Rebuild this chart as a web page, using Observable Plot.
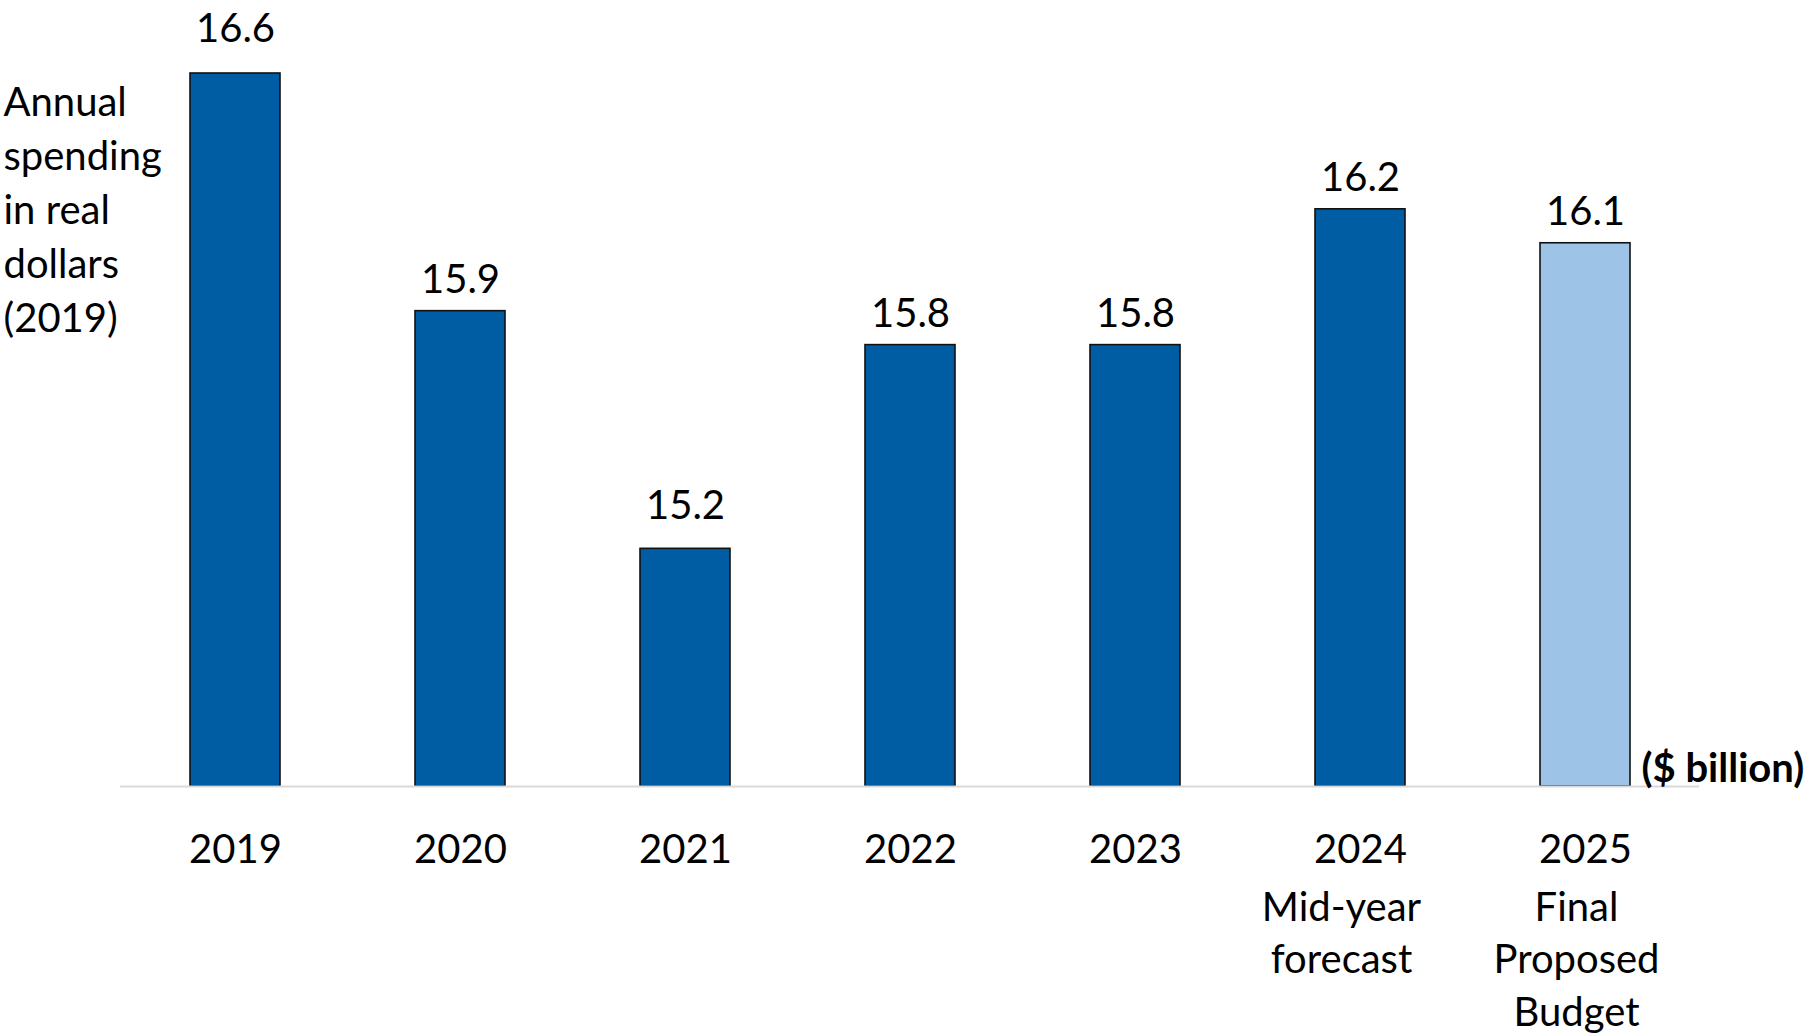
<!DOCTYPE html>
<html>
<head>
<meta charset="utf-8">
<script src="https://cdn.jsdelivr.net/npm/d3@7"></script>
<script src="https://cdn.jsdelivr.net/npm/@observablehq/plot@0.6"></script>
<style>
  html, body { margin: 0; padding: 0; background: #fff; overflow: hidden; }
  svg { display: block; font-family: Lato, "Open Sans", sans-serif; }
</style>
</head>
<body>
<div id="chart"></div>
<script>
// ---- data ----
const years = ["2019", "2020", "2021", "2022", "2023", "2024", "2025"];
const values = [16.6, 15.9, 15.2, 15.8, 15.8, 16.2, 16.1];
const seriesType = ["actual", "actual", "actual", "actual", "actual", "actual", "proposed"];
const subLabels = ["", "", "", "", "", "Mid-year\nforecast", "Final\nProposed\nBudget"];
const yAxisTitle = "Annual\nspending\nin real\ndollars\n(2019)";
const unitLabel = "($ billion)";
const yDomain = [14.5, 16.6];

const data = years.map((y, i) => ({year: y, value: values[i], type: seriesType[i], sub: subLabels[i]}));
const fs = 40;

const chart = Plot.plot({
  width: 1812,
  height: 1034,
  marginTop: 73,
  marginBottom: 248,
  marginLeft: 120,
  marginRight: 113,
  style: {fontFamily: "Lato, 'Open Sans', sans-serif", color: "#000", background: "#fff"},
  x: {domain: years, paddingInner: 0.6, paddingOuter: 0.3, label: null},
  y: {domain: yDomain, axis: null},
  color: {domain: ["actual", "proposed"], range: ["#005da4", "#9dc3e6"]},
  marks: [
    Plot.rectY(data, {x: "year", y1: () => yDomain[0], y2: "value", fill: "type", stroke: "#111", strokeWidth: 1.6}),
    Plot.ruleY([yDomain[0]], {stroke: "#d9d9d9", strokeWidth: 2}),
    // value labels
    Plot.text(data.filter(d => d.value !== 16.6 && d.value !== 15.2), {x: "year", y: "value", text: d => d.value.toFixed(1), lineAnchor: "bottom", dy: -18, fontSize: fs, fill: "#000"}),
    Plot.text(data.filter(d => d.value === 15.2), {x: "year", y: "value", text: d => d.value.toFixed(1), lineAnchor: "bottom", dy: -30, fontSize: fs, fill: "#000"}),
    Plot.text(data.filter(d => d.value === 16.6), {x: "year", y: "value", text: d => d.value.toFixed(1), lineAnchor: "bottom", dy: -32, fontSize: fs, fill: "#000"}),
    // x axis year labels
    Plot.axisX({tickSize: 0, tickPadding: 48, fontSize: fs, label: null, fill: "#000"}),
    // sub labels
    Plot.text(data.filter(d => d.year === "2024"), {x: "year", y: () => yDomain[0], text: "sub", lineAnchor: "top", lineHeight: 1.3125, dy: 97, dx: -19, fontSize: fs, fill: "#000"}),
    Plot.text(data.filter(d => d.year === "2025"), {x: "year", y: () => yDomain[0], text: "sub", lineAnchor: "top", lineHeight: 1.3125, dy: 97, dx: -9, fontSize: fs, fill: "#000"}),
    // y axis title
    Plot.text([yAxisTitle], {frameAnchor: "top-left", textAnchor: "start", lineAnchor: "top", lineHeight: 1.35, dx: -117, dy: 4, fontSize: fs, fill: "#000"}),
    // unit label
    Plot.text(data.filter(d => d.year === "2025"), {x: "year", y: () => yDomain[0], text: () => unitLabel, textAnchor: "start", lineAnchor: "bottom", dx: 56, dy: -5, fontSize: fs, fontWeight: "bold", fill: "#000"})
  ]
});
document.getElementById("chart").appendChild(chart);
</script>
</body>
</html>
